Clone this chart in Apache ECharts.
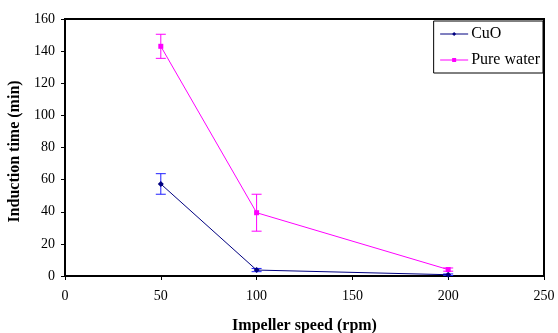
<!DOCTYPE html>
<html><head><meta charset="utf-8">
<script src="https://cdn.jsdelivr.net/npm/echarts@6/dist/echarts.min.js"></script>
<style>html,body{margin:0;padding:0;background:#fff}#c{width:558px;height:333px}</style>
</head><body><div id="c"></div>
<script>
var speeds = [50, 100, 200];
var cuoTime = [57.3, 3.7, 0.8];
var cuoErr = [6.4, 1.0, 0.5];
var waterTime = [143, 39.4, 4.0];
var waterErr = [7.5, 11.5, 1.0];
var xTicks = [0, 50, 100, 150, 200, 250];
var yTicks = [0, 20, 40, 60, 80, 100, 120, 140, 160];

var FONT = '"Liberation Serif", "Times New Roman", serif';
function pts(v){ return speeds.map(function(s,i){ return [s, v[i]]; }); }
function errData(v,e){ return speeds.map(function(s,i){ return [s, v[i]-e[i], v[i]+e[i]]; }); }
function errSeries(name, v, e, color){
  return {
    type:'custom', name:name+' err', data:errData(v,e), z:1, silent:true,
    renderItem:function(params, api){
      var x=api.value(0), lo=api.coord([x, api.value(1)]), hi=api.coord([x, api.value(2)]);
      var w=5;
      var st={stroke:color, lineWidth:1};
      return {type:'group', children:[
        {type:'line', shape:{x1:lo[0],y1:lo[1],x2:hi[0],y2:hi[1]}, style:st},
        {type:'line', shape:{x1:lo[0]-w,y1:lo[1],x2:lo[0]+w,y2:lo[1]}, style:st},
        {type:'line', shape:{x1:hi[0]-w,y1:hi[1],x2:hi[0]+w,y2:hi[1]}, style:st}
      ]};
    }
  };
}
var chart = echarts.init(document.getElementById('c'));
chart.setOption({
  animation:false,
  textStyle:{fontFamily:FONT},
  grid:{left:65, right:14, top:19, bottom:57, show:true, borderColor:'#000', borderWidth:2,
        containLabel:false, outerBoundsMode:'none'},
  legend:{
    orient:'vertical', right:15, top:21, data:['CuO','Pure water'],
    borderColor:'#000', borderWidth:1, padding:[5,3,5,6], itemGap:10,
    itemWidth:28, itemHeight:5,
    lineStyle:{width:1},
    textStyle:{fontFamily:FONT, fontSize:16, color:'#000', padding:[0,0,0,-2]}
  },
  xAxis:{
    type:'value', min:xTicks[0], max:xTicks[xTicks.length-1], interval:50,
    name:'Impeller speed (rpm)', nameLocation:'middle', nameGap:42,
    nameTextStyle:{fontFamily:FONT, fontWeight:'bold', fontSize:16, color:'#000'},
    axisLine:{lineStyle:{color:'#000', width:2}},
    axisTick:{show:true, length:4, lineStyle:{color:'#000'}},
    axisLabel:{fontFamily:FONT, fontSize:14, color:'#000', margin:13},
    splitLine:{show:false}
  },
  yAxis:{
    type:'value', min:yTicks[0], max:yTicks[yTicks.length-1], interval:20,
    name:'Induction time (min)', nameLocation:'middle', nameGap:38,
    nameTextStyle:{fontFamily:FONT, fontWeight:'bold', fontSize:16, color:'#000', padding:[0,8,0,0]},
    axisLine:{lineStyle:{color:'#000', width:2}},
    axisTick:{show:true, length:4, lineStyle:{color:'#000'}},
    axisLabel:{fontFamily:FONT, fontSize:14, color:'#000', margin:10},
    splitLine:{show:false}
  },
  series:[
    errSeries('CuO', cuoTime, cuoErr, '#2020ff'),
    errSeries('Pure water', waterTime, waterErr, '#ff00ff'),
    {type:'line', name:'CuO', data:pts(cuoTime), symbol:'diamond', symbolSize:6,
     itemStyle:{color:'#000080'}, lineStyle:{color:'#000080', width:1}, z:3},
    {type:'line', name:'Pure water', data:pts(waterTime), symbol:'rect', symbolSize:5,
     itemStyle:{color:'#ff00ff'}, lineStyle:{color:'#ff00ff', width:1}, z:3}
  ]
});
</script></body></html>
